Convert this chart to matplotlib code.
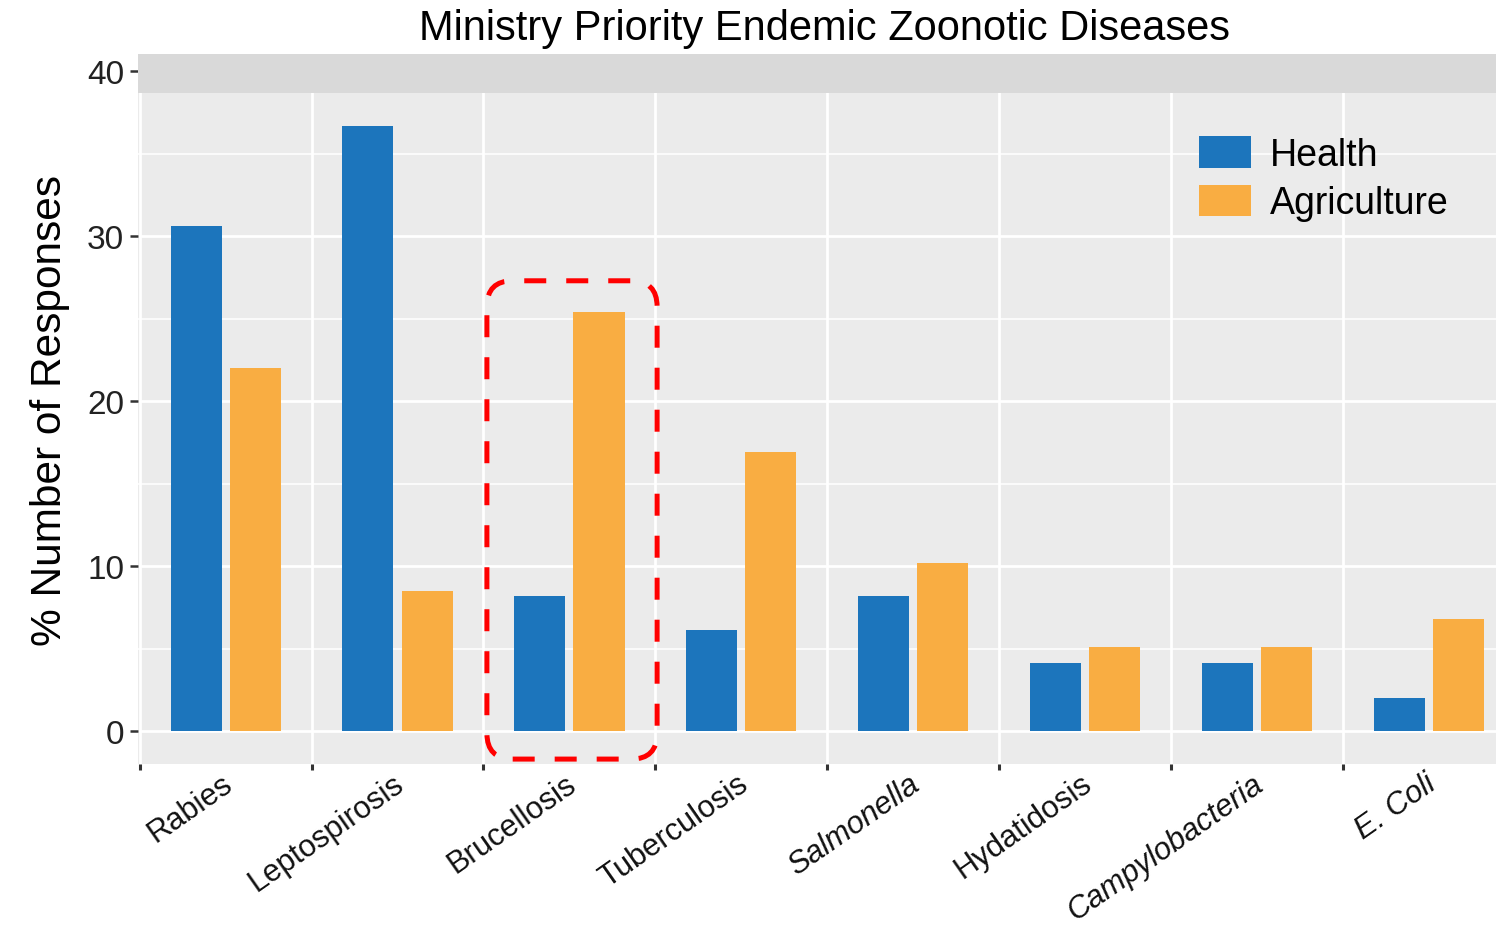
"""Ministry priority endemic zoonotic diseases: grouped bar chart."""

import matplotlib

matplotlib.use("Agg")

import matplotlib.pyplot as plt
import matplotlib.transforms as mtransforms
import numpy as np
from matplotlib.patches import FancyBboxPatch, Patch

plt.rcParams["font.family"] = ["Liberation Sans", "DejaVu Sans"]

diseases = ["Rabies", "Leptospirosis", "Brucellosis", "Tuberculosis",
            "Salmonella", "Hydatidosis", "Campylobacteria", "E. Coli"]
italic_labels = {"Salmonella", "Campylobacteria", "E. Coli"}
health = [30.6, 36.7, 8.2, 6.1, 8.2, 4.1, 4.1, 2.0]
agriculture = [22.0, 8.5, 25.4, 16.9, 10.2, 5.1, 5.1, 6.8]
highlight = "Brucellosis"

HEALTH_COLOR = "#1c75bc"
AGRI_COLOR = "#f9ad42"
PANEL = "#ebebeb"

XLIM = (-0.51, 7.39)
YLIM = (-2.0, 41.05)
AX_RECT = [0.0922, 0.1765, 0.9078, 0.7643]

fig = plt.figure(figsize=(14.96, 9.29), dpi=100)
ax = fig.add_axes(AX_RECT)
ax.set_facecolor(PANEL)

x = np.arange(len(diseases))
width = 0.297
offset = 0.172
ax.bar(x - offset, health, width, color=HEALTH_COLOR, zorder=3)
ax.bar(x + offset, agriculture, width, color=AGRI_COLOR, zorder=3)

# grid: major y, minor y, vertical at category boundaries
ax.set_yticks([0, 10, 20, 30, 40])
ax.set_yticks([5, 15, 25, 35], minor=True)
ax.set_xticks(np.arange(-0.5, len(diseases), 1.0))
ax.set_xticks(x, minor=True)
ax.set_xlim(*XLIM)
ax.set_ylim(*YLIM)
ax.grid(which="major", axis="both", color="white", linewidth=2.0, zorder=1)
ax.grid(which="minor", axis="y", color="white", linewidth=1.1, zorder=1)
ax.set_axisbelow(True)

# darker strip across the top of the panel
ax.axhspan(38.7, YLIM[1], color="#d9d9d9", zorder=2, linewidth=0)

ax.tick_params(axis="y", which="major", length=6, width=1.8, color="#333333",
               labelsize=24, labelcolor="#222222", pad=4)
ax.tick_params(axis="y", which="minor", length=0)
ax.tick_params(axis="x", which="major", length=4, width=2.2, color="#333333",
               labelbottom=False)
ax.tick_params(axis="x", which="minor", length=0, pad=3)
ax.set_xticklabels(diseases, minor=True, rotation=35, ha="right",
                   rotation_mode="anchor", fontsize=22.2, color="#111111")
shift = mtransforms.ScaledTranslation(-5 / 100, 0, fig.dpi_scale_trans)
for lbl in ax.get_xticklabels(minor=True):
    if lbl.get_text() in italic_labels:
        lbl.set_fontstyle("italic")
    lbl.set_transform(lbl.get_transform() + shift)

for spine in ax.spines.values():
    spine.set_visible(False)

ax.set_ylabel("% Number of Responses", fontsize=30.5, labelpad=12)
fig.suptitle("Ministry Priority Endemic Zoonotic Diseases", x=0.551, y=0.99,
             fontsize=30, va="top")

handles = [Patch(facecolor=HEALTH_COLOR, label="Health"),
           Patch(facecolor=AGRI_COLOR, label="Agriculture")]
ax.legend(handles=handles, loc="upper left", bbox_to_anchor=(0.77, 0.905),
          frameon=False, fontsize=27, handlelength=1.4, handleheight=0.9,
          handletextpad=0.5, labelspacing=0.32, borderaxespad=0)

# red dashed rounded box around the highlighted category
hi = diseases.index(highlight)
top = max(health[hi], agriculture[hi]) + 1.9
aspect = ((YLIM[1] - YLIM[0]) / (XLIM[1] - XLIM[0])
          * (fig.get_figwidth() * AX_RECT[2]) / (fig.get_figheight() * AX_RECT[3]))
box = FancyBboxPatch((hi - 0.48, -1.7), 0.99, top + 1.7,
                     boxstyle="round,pad=0,rounding_size=0.15",
                     mutation_aspect=aspect, fill=False, edgecolor="#ff0000",
                     linewidth=3.6, linestyle=(0, (4.4, 4.0)), zorder=5,
                     clip_on=False)
ax.add_patch(box)

fig.savefig("out.png", dpi=100)
